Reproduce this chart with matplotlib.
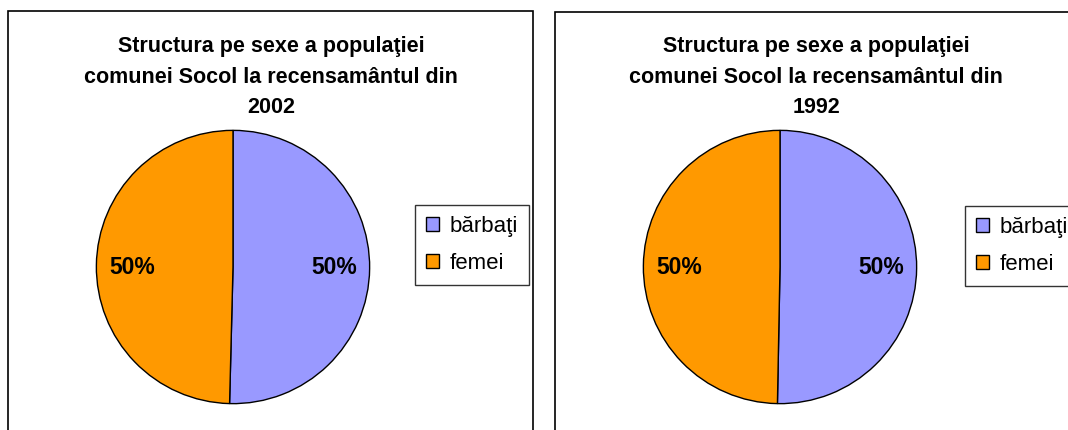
import matplotlib.pyplot as plt
from matplotlib.patches import Rectangle, Patch

plt.rcParams['font.family'] = ['Liberation Sans', 'DejaVu Sans']

categories = ['bărbaţi', 'femei']
share_2002 = [50.4, 49.6]
share_1992 = [50.3, 49.7]
years = ['2002', '1992']
colors = ['#9999FF', '#FF9900']

W, H = 1068, 430
fig = plt.figure(figsize=(W / 100, H / 100), dpi=100)

def px_rect(x0, y0, x1, y1):
    # pixel box (top-left origin) -> figure fraction [left, bottom, width, height]
    return [x0 / W, 1 - y1 / H, (x1 - x0) / W, (y1 - y0) / H]

panels = [
    dict(frame=(8, 11, 533, 440), center=(233, 267), title_x=271, legend=(415, 205), data=share_2002, year=years[0]),
    dict(frame=(555, 12, 1080, 440), center=(780, 267), title_x=816, legend=(965, 206), data=share_1992, year=years[1]),
]

r = 138
for p in panels:
    x0, y0, x1, y1 = p['frame']
    fig.patches.append(Rectangle((x0 / W, 1 - y1 / H), (x1 - x0) / W, (y1 - y0) / H,
                                 transform=fig.transFigure, fill=False,
                                 edgecolor='black', linewidth=1.2))
    cx, cy = p['center']
    ax = fig.add_axes(px_rect(cx - r, cy - r, cx + r, cy + r))
    wedges, texts, autotexts = ax.pie(
        p['data'], colors=colors, startangle=90, counterclock=False,
        autopct='%1.0f%%', pctdistance=0.74,
        wedgeprops=dict(edgecolor='black', linewidth=1.0),
        textprops=dict(fontsize=16.5, fontweight='bold'))
    # labels sit level with the centre, as in the original
    for t in autotexts:
        t.set_y(0)
    ax.set_xlim(-1.01, 1.01)
    ax.set_ylim(-1.01, 1.01)
    ax.set_aspect('equal')
    ax.axis('off')

    fig.text(p['title_x'] / W, 1 - 36 / H,
             'Structura pe sexe a populaţiei\ncomunei Socol la recensamântul din\n' + p['year'],
             ha='center', va='top', fontsize=15.5, fontweight='bold', linespacing=1.6)

    lx, ly = p['legend']
    handles = [Patch(facecolor=c, edgecolor='black', linewidth=1.0) for c in colors]
    fig.legend(handles, categories, loc='upper left',
               bbox_to_anchor=(lx / W, 1 - ly / H), fontsize=16,
               frameon=True, fancybox=False, edgecolor='black',
               handlelength=0.6, handleheight=0.6, handletextpad=0.45,
               labelspacing=0.72, borderpad=0.5, borderaxespad=0)

fig.savefig('out.png', dpi=100)
